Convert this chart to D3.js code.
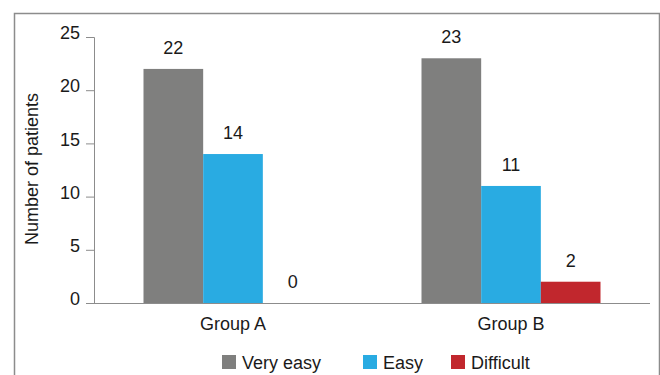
<!DOCTYPE html>
<html lang="en">
<head>
  <meta charset="UTF-8">
  <title>Number of patients by group</title>
  <style>
    body { margin: 0; background: #fff; }
    svg text { font-family: "Liberation Sans", Arial, sans-serif; fill: #1a1a1a; }
    .axis path, .axis line { stroke: #8c8c8c; }
  </style>
  <script src="https://d3js.org/d3.v7.min.js"></script>
</head>
<body>
  <svg id="chart" width="660" height="375"></svg>
  <script>
    const groups = ["Group A", "Group B"];
    const series = ["Very easy", "Easy", "Difficult"];
    const veryEasy = [22, 23];
    const easy = [14, 11];
    const difficult = [0, 2];
    const yTicks = [0, 5, 10, 15, 20, 25];
    const colors = ["#7f7f7e", "#29abe2", "#c1272d"];

    const values = [veryEasy, easy, difficult];
    const data = groups.map((g, i) => ({
      group: g,
      items: series.map((s, j) => ({ series: s, value: values[j][i] }))
    }));

    const svg = d3.select("svg#chart");
    const margins = { top: 37, left: 94, right: 10, bottom: 72 };
    const chartWidth = 650 - margins.left;
    const chartHeight = 303 - margins.top;
    const fontSize = "18px";

    // outer frame (open at the bottom)
    svg.append("path")
      .attr("d", "M14.5,375 V13.5 H659.5 V375")
      .attr("fill", "none")
      .attr("stroke", "#8c8c8c")
      .attr("stroke-width", 1.5);

    const chartArea = svg.append("g")
      .attr("transform", `translate(${margins.left},${margins.top})`);

    const xScale = d3.scaleBand().domain(groups).range([0, chartWidth]);
    // three ~60px bars centred in each band
    const xInner = d3.scaleBand().domain(series)
      .range([(xScale.bandwidth() - 179) / 2, (xScale.bandwidth() + 179) / 2])
      .padding(0);

    const yScale = d3.scaleLinear().domain([0, 25]).range([chartHeight, 0]);
    const color = d3.scaleOrdinal().domain(series).range(colors);

    const leftAxis = d3.axisLeft(yScale).tickValues(yTicks).tickSize(8).tickPadding(6);
    chartArea.append("g")
      .attr("class", "y axis")
      .call(leftAxis)
      .call(g => g.select(".domain").attr("d", `M-8,0.5H0.5V${chartHeight}`))
      .selectAll("text")
      .style("font-size", fontSize)
      .attr("dy", "0.32em")
      .attr("transform", "translate(0,-4)");

    const groupsG = chartArea.selectAll("g.group")
      .data(data)
      .join("g")
      .attr("class", "group")
      .attr("transform", d => `translate(${xScale(d.group)},0)`);

    groupsG.selectAll("rect")
      .data(d => d.items)
      .join("rect")
      .attr("x", d => xInner(d.series))
      .attr("width", xInner.bandwidth())
      .attr("y", d => yScale(d.value))
      .attr("height", d => chartHeight - yScale(d.value))
      .attr("fill", d => color(d.series));

    groupsG.selectAll("text.value")
      .data(d => d.items)
      .join("text")
      .attr("class", "value")
      .attr("x", d => xInner(d.series) + xInner.bandwidth() / 2)
      .attr("y", d => yScale(d.value) - 15)
      .attr("text-anchor", "middle")
      .style("font-size", fontSize)
      .text(d => d.value);

    // x baseline
    chartArea.append("line")
      .attr("x1", 0).attr("x2", chartWidth)
      .attr("y1", chartHeight + 0.5).attr("y2", chartHeight + 0.5)
      .attr("stroke", "#8c8c8c");

    chartArea.selectAll("text.cat")
      .data(groups)
      .join("text")
      .attr("class", "cat")
      .attr("x", d => xScale(d) + xScale.bandwidth() / 2)
      .attr("y", chartHeight + 27)
      .attr("text-anchor", "middle")
      .style("font-size", fontSize)
      .text(d => d);

    svg.append("text")
      .attr("x", -169)
      .attr("y", 38)
      .attr("transform", "rotate(-90)")
      .attr("text-anchor", "middle")
      .style("font-size", fontSize)
      .text("Number of patients");

    // legend
    const legendX = [222, 363, 451];
    const legend = svg.selectAll("g.legend")
      .data(series)
      .join("g")
      .attr("class", "legend")
      .attr("transform", (d, i) => `translate(${legendX[i]},355)`);
    legend.append("rect")
      .attr("width", 14).attr("height", 14)
      .attr("fill", d => color(d));
    legend.append("text")
      .attr("x", 20).attr("y", 13.5)
      .style("font-size", fontSize)
      .text(d => d);
  </script>
</body>
</html>
